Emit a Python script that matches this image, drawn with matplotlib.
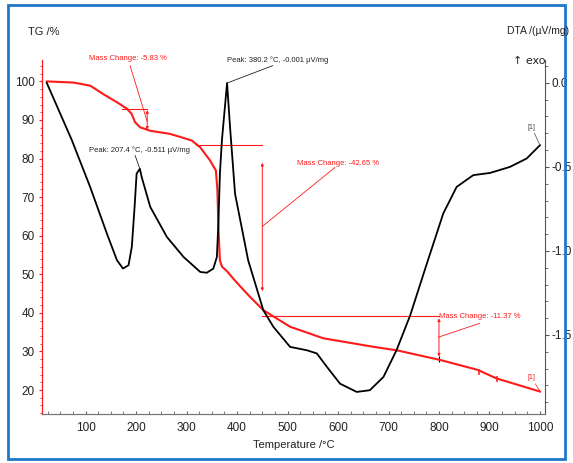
import matplotlib
matplotlib.use("Agg")
import matplotlib.pyplot as plt
from matplotlib.patches import Rectangle
from matplotlib.ticker import MultipleLocator

plt.rcParams['font.family'] = ['Liberation Sans', 'DejaVu Sans']

# ---- data ----
tg_temp = [23, 76, 109, 135, 162, 182, 191, 198, 208, 228, 267, 300, 310, 327, 346.5, 358,
           361, 363, 366, 370, 380, 393, 406, 426, 452, 505, 571, 670, 716, 802, 877, 914, 1000]
tg_mass = [100, 99.7, 98.9, 96.7, 94.6, 92.9, 91.6, 89.4, 88.1, 87.2, 86.4, 85.1, 84.7, 82.9,
           79.5, 76.9, 72.0, 62.2, 53.6, 52.0, 50.8, 48.8, 46.9, 44.1, 40.7, 36.4, 33.4, 31.2,
           30.3, 27.8, 25.2, 23.0, 19.6]

dta_temp = [23, 72.7, 109, 142, 162, 174, 185, 191.5, 197, 201, 207.4, 211, 228, 261, 294,
            327, 340, 353, 360, 363, 366, 370, 380.2, 386, 396, 422, 452, 472, 505, 538, 558,
            578, 604, 637, 663, 690, 716, 743, 776, 808.5, 835, 868, 901, 940.6, 973.7, 1000]
dta_val = [0.0, -0.341, -0.62, -0.896, -1.055, -1.105, -1.085, -0.976, -0.738, -0.54, -0.511,
           -0.56, -0.738, -0.917, -1.036, -1.125, -1.13, -1.105, -1.036, -0.837, -0.54, -0.341,
           -0.001, -0.26, -0.66, -1.056, -1.353, -1.452, -1.571, -1.591, -1.61, -1.69, -1.79,
           -1.839, -1.829, -1.75, -1.59, -1.383, -1.075, -0.777, -0.619, -0.549, -0.536, -0.5,
           -0.45, -0.371]

# mass change steps: arrow temperature, start of upper guide line, upper level, change
mc_temp = [222, 450, 800]
mc_line_from = [172, 318, 450]
mc_top = [92.9, 83.6, 39.3]
mc_change = [-5.83, -42.65, -11.37]

peak_temp = [207.4, 380.2]
peak_val = [-0.511, -0.001]

tg_glitch_temp = [880, 915]
tg_glitch_mass = [24.6, 22.9]

RED = "#ff1a1a"
INK = "#222222"

fig = plt.figure(figsize=(5.73, 4.63), dpi=100)
ax = fig.add_axes([0.0728, 0.106, 0.8792, 0.764])
ax2 = ax.twinx()

ax.plot(tg_temp, tg_mass, color=RED, lw=1.5, zorder=3, solid_joinstyle="round")
ax.plot(tg_glitch_temp, tg_glitch_mass, ls="none", marker="|", ms=5, color=RED, mew=1.1)
ax.plot([800], [28.0], ls="none", marker="|", ms=4, color="black", mew=0.8)
ax2.plot(dta_temp, dta_val, color="black", lw=1.3, zorder=3, solid_joinstyle="round")

ax.set_xlim(13, 1011)
ax.set_ylim(13.8, 105.5)
ax2.set_ylim(-1.97, 0.135)

ax.set_xticks(range(100, 1001, 100))
ax.xaxis.set_minor_locator(MultipleLocator(25))
ax.set_yticks(range(20, 101, 10))
ax.yaxis.set_minor_locator(MultipleLocator(2))
ax2.set_yticks([0.0, -0.5, -1.0, -1.5])
ax2.set_yticklabels(["0.0", "-0.5", "-1.0", "-1.5"])
ax2.yaxis.set_minor_locator(MultipleLocator(0.1))

for a in (ax, ax2):
    a.spines["top"].set_visible(False)
    a.spines["bottom"].set_color("#777777")
ax.spines["left"].set_color(RED)
ax2.spines["left"].set_color(RED)
ax2.spines["right"].set_color("#555555")
ax.spines["right"].set_visible(False)

ax.tick_params(axis="y", colors=RED, labelcolor=INK, labelsize=8.5, length=2, width=0.8, pad=3)
ax.tick_params(axis="y", which="minor", colors=RED, length=1.5)
ax.tick_params(axis="x", colors="#666666", labelcolor=INK, labelsize=8.5, length=2, width=0.8,
               direction="in", pad=6)
ax.tick_params(axis="x", which="minor", length=2, direction="in", colors="#666666")
ax2.tick_params(axis="y", colors="#555555", labelcolor=INK, labelsize=8.5, length=3, width=0.8, pad=1)
ax2.tick_params(axis="y", which="minor", length=2, colors="#555555")

ax.set_xlabel("Temperature /°C", fontsize=8, labelpad=4, color=INK)

# ---- mass change markers ----
shrink = [1, 13, 2]
for t, t0, top, ch, s in zip(mc_temp, mc_line_from, mc_top, mc_change, shrink):
    ax.plot([t0, t], [top, top], color=RED, lw=0.8)
    ax.annotate("", xy=(t, top + ch), xytext=(t, top),
                arrowprops=dict(arrowstyle="<|-|>", color=RED, lw=0.7, mutation_scale=4,
                                shrinkA=s, shrinkB=s))

mc_text_pos = [(184, 105.9), (519, 78.7), (801, 39.0)]
mc_leader = [((188, 104.1), (222, 89.6)), ((594, 77.7), (450, 62.4)), ((881, 37.3), (799, 33.7))]
mc_ha = ["center", "left", "left"]
for pos, ha, ch, (p0, p1) in zip(mc_text_pos, mc_ha, mc_change, mc_leader):
    ax.text(pos[0], pos[1], f"Mass Change: {ch:.2f} %", color=RED, fontsize=5.5,
            ha=ha, va="center", clip_on=False)
    ax.annotate("", xy=p1, xytext=p0, annotation_clip=False,
                arrowprops=dict(arrowstyle="-", color=RED, lw=0.6, shrinkA=0, shrinkB=0))

# ---- DTA peak labels ----
peak_text_pos = [(107, 82.3), (380, 105.4)]
peak_leader_from = [(198, 80.8), (471, 104.1)]
for t, v, pos, lf in zip(peak_temp, peak_val, peak_text_pos, peak_leader_from):
    ax.text(pos[0], pos[1], f"Peak: {t:.1f} °C, {v:.3f} µV/mg", color=INK, fontsize=5.5,
            ha="left", va="center", clip_on=False)
    ax2.annotate("", xy=(t, v), xytext=lf, textcoords=ax.transData, annotation_clip=False,
                 arrowprops=dict(arrowstyle="-", color=INK, lw=0.6, shrinkA=0, shrinkB=0))

# [1] end labels
ax2.annotate("[1]", xy=(1000, dta_val[-1]), xytext=(-6, 12), textcoords="offset points",
             fontsize=5, color="#444444", ha="center",
             arrowprops=dict(arrowstyle="-", color="#444444", lw=0.5, shrinkA=0, shrinkB=0))
ax.annotate("[1]", xy=(1000, tg_mass[-1]), xytext=(-6, 9), textcoords="offset points",
            fontsize=5, color=RED, ha="center",
            arrowprops=dict(arrowstyle="-", color=RED, lw=0.5, shrinkA=0, shrinkB=0))

# axis titles
fig.text(28 / 573, 1 - 32 / 463, "TG /%", fontsize=8, color=INK, va="center")
fig.text(507 / 573, 1 - 31 / 463, "DTA /(µV/mg)", fontsize=7.5, color=INK, va="center")
fig.text(513 / 573, 1 - 61 / 463, "↑ exo", fontsize=8, color=INK, va="center",
         family=["DejaVu Sans"])

# blue frame
fig.patches.append(Rectangle((8 / 573, 1 - 459 / 463), 557 / 573, 454 / 463,
                             transform=fig.transFigure, fill=False, edgecolor="#1f78c8", lw=2))

fig.savefig("out.png", dpi=100)
